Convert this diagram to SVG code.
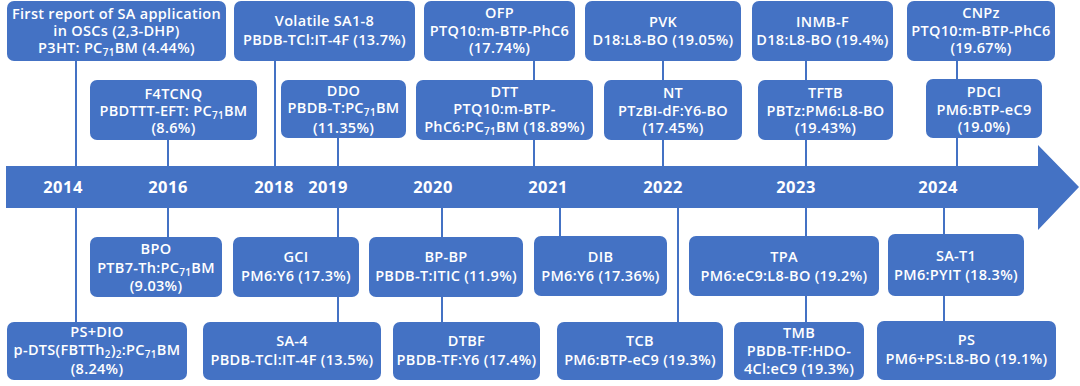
<svg xmlns="http://www.w3.org/2000/svg" width="1080" height="386" viewBox="0 0 1080 386">
<style>
.bg{fill:#ffffff}
.box{fill:#4472c4}
.ln{stroke:#4472c4;stroke-width:2;fill:none}
.arrow{fill:#4472c4}
text{font-family:"Open Sans","Liberation Sans",sans-serif;fill:#ffffff;text-anchor:middle}
.t{font-size:14.5px;font-weight:600;letter-spacing:0.3px}
.yr{font-size:16.5px;font-weight:700;letter-spacing:0.5px}
.s{font-size:10px}
</style>
<rect class="bg" x="0" y="0" width="1080" height="386"/>
<g id="connectors">
<line class="ln" x1="76" y1="61" x2="76" y2="322"/>
<line class="ln" x1="168" y1="140" x2="168" y2="237"/>
<line class="ln" x1="275" y1="61" x2="275" y2="170"/>
<line class="ln" x1="338" y1="138" x2="338" y2="322"/>
<line class="ln" x1="442" y1="200" x2="442" y2="322"/>
<line class="ln" x1="534" y1="61" x2="534" y2="170"/>
<line class="ln" x1="560" y1="200" x2="560" y2="236"/>
<line class="ln" x1="663" y1="61" x2="663" y2="170"/>
<line class="ln" x1="678" y1="200" x2="678" y2="322"/>
<line class="ln" x1="806" y1="61" x2="806" y2="322"/>
<line class="ln" x1="957" y1="61" x2="957" y2="170"/>
<line class="ln" x1="944" y1="200" x2="944" y2="321"/>
</g>
<g id="timeline">
<polygon class="arrow" points="6,166 1038,166 1038,145 1079,187 1038,230 1038,208 6,208"/>
<text class="yr" x="63" y="193">2014</text>
<text class="yr" x="168" y="193">2016</text>
<text class="yr" x="274" y="193">2018</text>
<text class="yr" x="328" y="193">2019</text>
<text class="yr" x="433" y="193">2020</text>
<text class="yr" x="548" y="193">2021</text>
<text class="yr" x="663" y="193">2022</text>
<text class="yr" x="796" y="193">2023</text>
<text class="yr" x="938" y="193">2024</text>
</g>
<g id="n2014a"><rect class="box" x="7" y="1" width="219" height="60" rx="7"/>
<text class="t" x="116.5" y="19">First report of SA application</text>
<text class="t" x="116.5" y="36">in OSCs (2,3-DHP)</text>
<text class="t" x="116.5" y="53">P3HT: PC<tspan class="s" dy="2.5">71</tspan><tspan dy="-2.5">BM (4.44%)</tspan></text></g>
<g id="n2016a"><rect class="box" x="90" y="80" width="167" height="60" rx="7"/>
<text class="t" x="173.5" y="99">F4TCNQ</text>
<text class="t" x="173.5" y="116">PBDTTT-EFT: PC<tspan class="s" dy="2.5">71</tspan><tspan dy="-2.5">BM</tspan></text>
<text class="t" x="173.5" y="133">(8.6%)</text></g>
<g id="n2018a"><rect class="box" x="234" y="1" width="181" height="60" rx="7"/>
<text class="t" x="324.5" y="26">Volatile SA1-8</text>
<text class="t" x="324.5" y="45">PBDB-TCl:IT-4F (13.7%)</text></g>
<g id="n2019a"><rect class="box" x="281" y="80" width="125" height="58" rx="7"/>
<text class="t" x="343.5" y="96">DDO</text>
<text class="t" x="343.5" y="113">PBDB-T:PC<tspan class="s" dy="2.5">71</tspan><tspan dy="-2.5">BM</tspan></text>
<text class="t" x="343.5" y="133">(11.35%)</text></g>
<g id="n2021a"><rect class="box" x="424" y="1" width="151" height="60" rx="7"/>
<text class="t" x="499.5" y="18">OFP</text>
<text class="t" x="499.5" y="36">PTQ10:m-BTP-PhC6</text>
<text class="t" x="499.5" y="53">(17.74%)</text></g>
<g id="n2021b"><rect class="box" x="416" y="80" width="177" height="60" rx="7"/>
<text class="t" x="504.5" y="97">DTT</text>
<text class="t" x="504.5" y="114">PTQ10:m-BTP-</text>
<text class="t" x="504.5" y="132">PhC6:PC<tspan class="s" dy="2.5">71</tspan><tspan dy="-2.5">BM (18.89%)</tspan></text></g>
<g id="n2022a"><rect class="box" x="585" y="1" width="156" height="60" rx="7"/>
<text class="t" x="663" y="27">PVK</text>
<text class="t" x="663" y="45">D18:L8-BO (19.05%)</text></g>
<g id="n2022b"><rect class="box" x="604" y="80" width="138" height="60" rx="7"/>
<text class="t" x="673" y="98">NT</text>
<text class="t" x="673" y="116">PTzBI-dF:Y6-BO</text>
<text class="t" x="673" y="133">(17.45%)</text></g>
<g id="n2023a"><rect class="box" x="752" y="1" width="141" height="60" rx="7"/>
<text class="t" x="822.5" y="27">INMB-F</text>
<text class="t" x="822.5" y="45">D18:L8-BO (19.4%)</text></g>
<g id="n2023b"><rect class="box" x="758" y="80" width="135" height="60" rx="7"/>
<text class="t" x="825.5" y="98">TFTB</text>
<text class="t" x="825.5" y="116">PBTz:PM6:L8-BO</text>
<text class="t" x="825.5" y="133">(19.43%)</text></g>
<g id="n2024a"><rect class="box" x="907" y="1" width="148" height="60" rx="7"/>
<text class="t" x="981" y="18">CNPz</text>
<text class="t" x="981" y="36">PTQ10:m-BTP-PhC6</text>
<text class="t" x="981" y="53">(19.67%)</text></g>
<g id="n2024b"><rect class="box" x="926" y="79" width="116" height="59" rx="7"/>
<text class="t" x="984" y="97">PDCI</text>
<text class="t" x="984" y="115">PM6:BTP-eC9</text>
<text class="t" x="984" y="132">(19.0%)</text></g>
<g id="n2016b"><rect class="box" x="90" y="237" width="132" height="60" rx="7"/>
<text class="t" x="156" y="254">BPO</text>
<text class="t" x="156" y="273">PTB7-Th:PC<tspan class="s" dy="2.5">71</tspan><tspan dy="-2.5">BM</tspan></text>
<text class="t" x="156" y="291">(9.03%)</text></g>
<g id="n2014b"><rect class="box" x="7" y="322" width="180" height="58" rx="7"/>
<text class="t" x="97" y="337">PS+DIO</text>
<text class="t" x="97" y="355">p-DTS(FBTTh<tspan class="s" dy="2.5">2</tspan><tspan dy="-2.5">)</tspan><tspan class="s" dy="2.5">2</tspan><tspan dy="-2.5">:PC</tspan><tspan class="s" dy="2.5">71</tspan><tspan dy="-2.5">BM</tspan></text>
<text class="t" x="97" y="374">(8.24%)</text></g>
<g id="n2019b"><rect class="box" x="233" y="237" width="126" height="60" rx="7"/>
<text class="t" x="296" y="262">GCI</text>
<text class="t" x="296" y="281">PM6:Y6 (17.3%)</text></g>
<g id="n2019c"><rect class="box" x="203" y="322" width="178" height="58" rx="7"/>
<text class="t" x="292" y="346">SA-4</text>
<text class="t" x="292" y="365">PBDB-TCl:IT-4F (13.5%)</text></g>
<g id="n2020a"><rect class="box" x="369" y="237" width="154" height="60" rx="7"/>
<text class="t" x="446" y="262">BP-BP</text>
<text class="t" x="446" y="281">PBDB-T:ITIC (11.9%)</text></g>
<g id="n2020b"><rect class="box" x="393" y="322" width="147" height="58" rx="7"/>
<text class="t" x="466.5" y="346">DTBF</text>
<text class="t" x="466.5" y="365">PBDB-TF:Y6 (17.4%)</text></g>
<g id="n2021c"><rect class="box" x="534" y="236" width="133" height="60" rx="7"/>
<text class="t" x="600.5" y="262">DIB</text>
<text class="t" x="600.5" y="281">PM6:Y6 (17.36%)</text></g>
<g id="n2022c"><rect class="box" x="557" y="322" width="166" height="58" rx="7"/>
<text class="t" x="640" y="346">TCB</text>
<text class="t" x="640" y="365">PM6:BTP-eC9 (19.3%)</text></g>
<g id="n2023c"><rect class="box" x="689" y="236" width="190" height="60" rx="7"/>
<text class="t" x="784" y="262">TPA</text>
<text class="t" x="784" y="281">PM6:eC9:L8-BO (19.2%)</text></g>
<g id="n2023d"><rect class="box" x="734" y="322" width="130" height="58" rx="7"/>
<text class="t" x="799" y="338">TMB</text>
<text class="t" x="799" y="356">PBDB-TF:HDO-</text>
<text class="t" x="799" y="374">4Cl:eC9 (19.3%)</text></g>
<g id="n2024c"><rect class="box" x="888" y="234" width="136" height="62" rx="7"/>
<text class="t" x="956" y="261">SA-T1</text>
<text class="t" x="956" y="280">PM6:PYIT (18.3%)</text></g>
<g id="n2024d"><rect class="box" x="877" y="321" width="179" height="59" rx="7"/>
<text class="t" x="966.5" y="345">PS</text>
<text class="t" x="966.5" y="364">PM6+PS:L8-BO (19.1%)</text></g>
</svg>
